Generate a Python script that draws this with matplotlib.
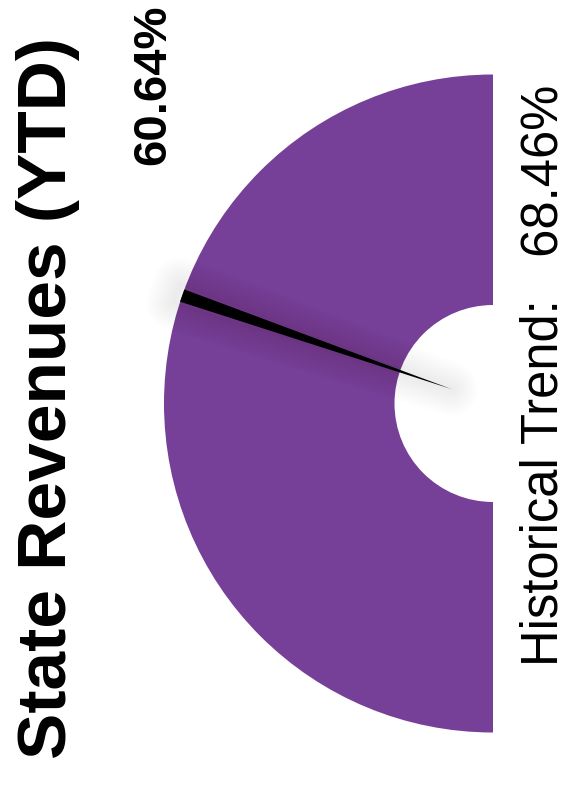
import numpy as np
import matplotlib
matplotlib.use("Agg")
import matplotlib.pyplot as plt
import matplotlib.patches as mpatches

# ── Data ──────────────────────────────────────────────────────────────────────
title = "State Revenues (YTD)"
actual_pct = 60.64
historical_pct = 68.46
gauge_min, gauge_max = 0.0, 100.0

PURPLE = "#763F98"

plt.rcParams["font.family"] = ["Liberation Sans", "DejaVu Sans"]

W, H = 572, 794
fig = plt.figure(figsize=(W / 100, H / 100), dpi=100)
ax = fig.add_axes([0, 0, 1, 1])
ax.set_xlim(0, W)
ax.set_ylim(H, 0)
ax.set_aspect("equal")
ax.axis("off")

# gauge geometry (pixel units, gauge rotated 90 deg: 0% at bottom, 100% at top)
cx, cy = 493, 403.5
r_out, r_in = 329, 98.5

band = mpatches.Wedge((cx, cy), r_out, 90, 270, width=r_out - r_in,
                      facecolor=PURPLE, edgecolor="none")
ax.add_patch(band)

# needle
frac = (actual_pct - gauge_min) / (gauge_max - gauge_min)
ang = np.pi * frac
u = np.array([-np.sin(ang), np.cos(ang)])   # direction on screen (y down)
perp = np.array([-u[1], u[0]])
half_w, tip_r = 6.5, 44
base = np.array([cx, cy]) + u * r_out
tip = np.array([cx, cy]) + u * tip_r
needle_pts = [base + perp * half_w, base - perp * half_w, tip]

# soft shadow, strongest at the wide outer end
shadow_pts = [base + perp * half_w * 1.6 + u * 6,
              base - perp * half_w * 1.6 + u * 6, tip]
for k in range(10):
    lw = 2 + k * 4
    ax.add_patch(mpatches.Polygon(shadow_pts, closed=True, facecolor="none",
                                  edgecolor="black", linewidth=lw, alpha=0.006,
                                  joinstyle="round"))
ax.add_patch(mpatches.Polygon(needle_pts, closed=True, facecolor="black",
                              edgecolor="none"))

# texts
ax.text(48, 398, title, rotation=90, ha="center", va="center",
        fontsize=50, fontweight="bold", color="black")
ax.text(153, 85, f"{actual_pct:.2f}%", rotation=90, ha="center", va="center",
        fontsize=34, fontweight="bold", color="black")
ax.text(544, 375, f"Historical Trend:   {historical_pct:.2f}%", rotation=90,
        ha="center", va="center", fontsize=36.5, color="black")

fig.savefig("out.png", dpi=100)
